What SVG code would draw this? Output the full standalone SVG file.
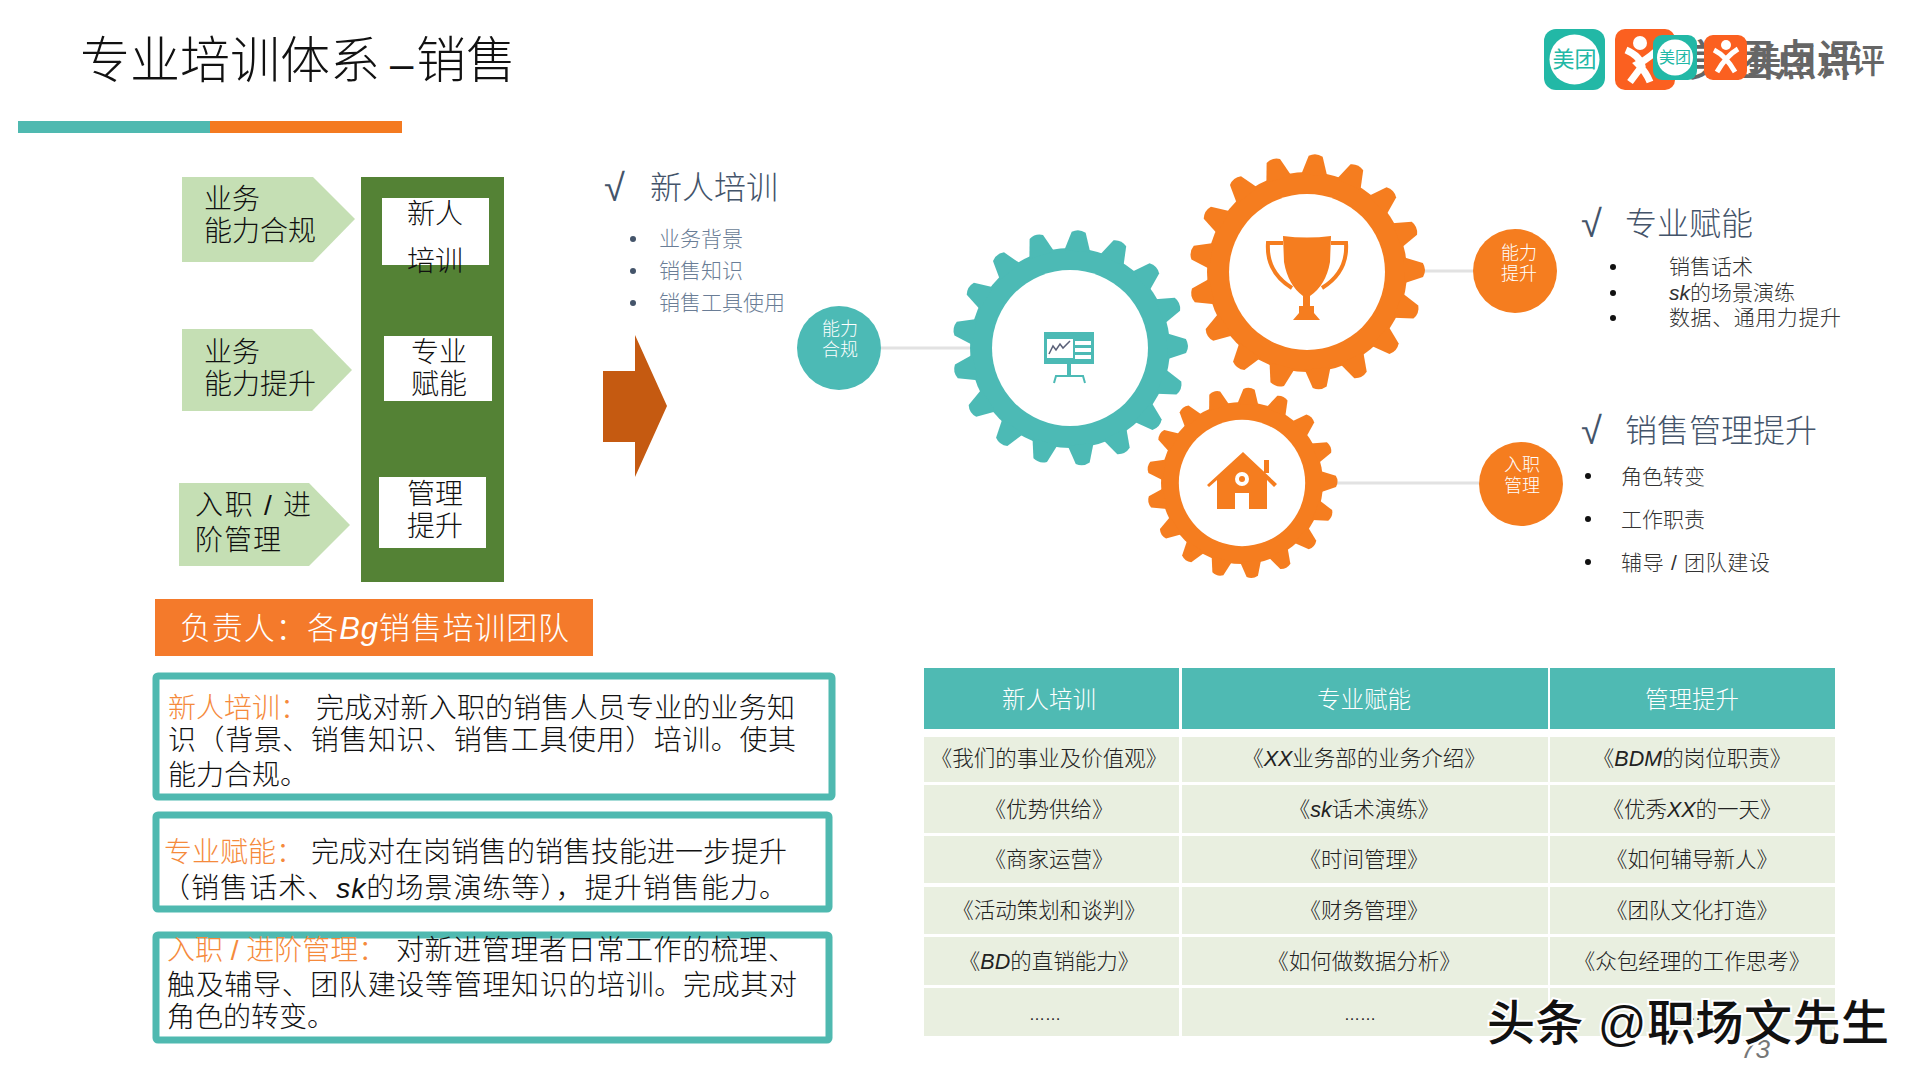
<svg xmlns="http://www.w3.org/2000/svg" xmlns:xlink="http://www.w3.org/1999/xlink" width="1920" height="1080" viewBox="0 0 1920 1080">
<style>
text{font-family:"Liberation Sans","Noto Sans CJK SC",sans-serif;font-weight:300;fill:#111}
.c{text-anchor:middle}
.tb{font-size:21.500px;fill:#222;text-anchor:middle}
.th{font-size:23.500px;fill:#fff;text-anchor:middle}
.lab{font-size:28px}
.d{font-size:28px}
.o{fill:#f58a3c}
.cw{font-size:18px;fill:#fff;text-anchor:middle}
.h{font-size:32px;fill:#44546a}
.chk{font-size:38px;fill:#44546a;font-style:italic;font-weight:400}
.l1{font-size:21px;fill:#6a7d96}
.l2{font-size:21px;fill:#333}
.it{font-style:italic;font-weight:400}
.row{fill:#e9efe0}
.hd{fill:#4fbab3}
.bx{fill:#fff;stroke:#4fb9b0;stroke-width:7}
.wb{fill:#fff}
.lg{fill:#c5dfb4}
.conn{stroke:#e2e2e2;stroke-width:3;fill:none}
</style>
<defs>
<path id="tooth" d="M-13,-97 L-7,-116 Q0,-120 7,-116 L13,-97 Z"/>
<g id="gear">
<circle r="100"/>
<g transform="rotate(89)">
<use href="#tooth"/><use href="#tooth" transform="rotate(21.18)"/><use href="#tooth" transform="rotate(42.35)"/><use href="#tooth" transform="rotate(63.53)"/><use href="#tooth" transform="rotate(84.71)"/><use href="#tooth" transform="rotate(105.88)"/><use href="#tooth" transform="rotate(127.06)"/><use href="#tooth" transform="rotate(148.24)"/><use href="#tooth" transform="rotate(169.41)"/><use href="#tooth" transform="rotate(190.59)"/><use href="#tooth" transform="rotate(211.76)"/><use href="#tooth" transform="rotate(232.94)"/><use href="#tooth" transform="rotate(254.12)"/><use href="#tooth" transform="rotate(275.29)"/><use href="#tooth" transform="rotate(296.47)"/><use href="#tooth" transform="rotate(317.65)"/><use href="#tooth" transform="rotate(338.82)"/>
</g>
<circle r="78" fill="#fff"/>
</g>
</defs>
<rect width="1920" height="1080" fill="#fff"/>

<g id="title">
<text x="80" y="78" font-size="50" fill="#222">专业培训体系</text>
<text x="390" y="78" font-size="42" fill="#222">–</text>
<text x="416" y="78" font-size="50" fill="#222">销售</text>
<rect x="18" y="121" width="192" height="12" fill="#4fb9b0"/>
<rect x="210" y="121" width="192" height="12" fill="#f47a20"/>
</g>

<g id="logo">
<text x="1688" y="76" font-size="43" style="font-weight:500;fill:#666">美团点评</text>
<text x="1747" y="73" font-size="34.500" style="font-weight:500;fill:#666">美团点评</text>
<rect x="1544" y="29" width="61" height="61" rx="12" fill="#22b8a6"/>
<circle cx="1574.500" cy="59.500" r="25" fill="#fff"/>
<text class="c" x="1574.500" y="67" font-size="22" style="fill:#22b8a6;font-weight:400">美团</text>
<rect x="1615" y="29" width="60" height="61" rx="10" fill="#fb6020"/>
<circle cx="1640" cy="43" r="7" fill="#fff"/>
<path d="M1626,50 Q1640,56 1642,66 L1630,82 M1666,42 Q1650,58 1638,64 Q1646,72 1650,82" fill="none" stroke="#fff" stroke-width="7"/>
<rect x="1653" y="35" width="44" height="45" rx="9" fill="#22b8a6"/>
<circle cx="1675" cy="57.500" r="18" fill="#fff"/>
<text class="c" x="1675" y="63" font-size="16" style="fill:#22b8a6;font-weight:400">美团</text>
<rect x="1704" y="35" width="43" height="45" rx="9" fill="#fb6020"/>
<circle cx="1726" cy="45" r="5" fill="#fff"/>
<path d="M1714,50 Q1726,56 1735,72 M1738,49 Q1726,56 1717,72" fill="none" stroke="#fff" stroke-width="5"/>
</g>

<g id="left-arrows">
<g id="arrow-1"><path class="lg" d="M182,177 H313 L355,219 L313,262 H182 Z"/>
<text class="lab" x="204" y="209">业务</text><text class="lab" x="204" y="241">能力合规</text></g>
<g id="arrow-2"><path class="lg" d="M182,329 H312 L352,370 L312,411 H182 Z"/>
<text class="lab" x="204" y="362">业务</text><text class="lab" x="204" y="394">能力提升</text></g>
<g id="arrow-3"><path class="lg" d="M179,483 H309 L350,525 L309,566 H179 Z"/>
<text class="lab" x="195" y="515" textLength="116">入职 / 进</text><text class="lab" x="195" y="550" textLength="86">阶管理</text></g>
</g>

<g id="green-panel">
<rect x="361" y="177" width="143" height="405" fill="#548235"/>
<rect class="wb" x="382" y="198" width="107" height="67"/>
<rect class="wb" x="384" y="336" width="108" height="65"/>
<rect class="wb" x="379" y="477" width="107" height="71"/>
<text class="lab c" x="435" y="224">新人</text><text class="lab c" x="435" y="271">培训</text>
<text class="lab c" x="439" y="362">专业</text><text class="lab c" x="439" y="394">赋能</text>
<text class="lab c" x="435" y="504">管理</text><text class="lab c" x="435" y="536">提升</text>
</g>

<g id="big-arrow"><path d="M603,371 H635 V335 L667,406 L635,477 V442 H603 Z" fill="#c55a11"/></g>

<g id="list-new">
<text class="chk" x="604" y="201">√</text>
<text class="h" x="650" y="199">新人培训</text>
<circle cx="633" cy="239" r="3" fill="#44546a"/><text class="l1" x="659" y="246">业务背景</text>
<circle cx="633" cy="271" r="3" fill="#44546a"/><text class="l1" x="659" y="278">销售知识</text>
<circle cx="633" cy="303" r="3" fill="#44546a"/><text class="l1" x="659" y="310">销售工具使用</text>
</g>

<g id="connectors">
<path class="conn" d="M881,348 H970"/>
<path class="conn" d="M1424,271 H1473"/>
<path class="conn" d="M1337,483 H1479"/>
</g>

<g id="gear-teal" fill="#4cbab5">
<use href="#gear" transform="translate(1070,348)"/>
<rect x="1044" y="332" width="50" height="32"/>
<rect x="1047" y="339" width="26" height="19" fill="#fff"/>
<rect x="1075" y="341" width="16" height="4" fill="#fff"/><rect x="1075" y="348" width="16" height="4" fill="#fff"/><rect x="1075" y="355" width="16" height="4" fill="#fff"/>
<polyline points="1049,354 1053,346 1056,350 1060,344 1063,348 1070,341" fill="none" stroke="#5a6078" stroke-width="1.500"/>
<rect x="1067" y="364" width="4" height="11"/>
<path d="M1054,383 L1056,376 H1083 L1085,383" fill="none" stroke="#4cbab5" stroke-width="2"/>
</g>

<g id="gear-trophy" fill="#f57d1f">
<use href="#gear" transform="translate(1307,272)"/>
<path d="M1283,236 Q1307,239 1331,236 L1330,262 Q1326,285 1310,296 V306 H1314 V313 L1320,320 H1293 L1299,313 V306 H1303 V296 Q1288,285 1284,262 Z"/>
<path d="M1283,243 H1268 Q1266,272 1292,288 M1331,243 H1346 Q1348,272 1322,288" fill="none" stroke="#f57d1f" stroke-width="4"/>
</g>

<g id="gear-house" fill="#f57d1f">
<use href="#gear" transform="translate(1242,483) scale(0.81)"/>
<rect x="1264" y="460" width="5" height="13"/>
<path d="M1243,452 L1277,484 L1274,487 L1267,480 V509 H1217 V480 L1209,487 L1207,485 Z"/>
<circle cx="1242" cy="479" r="7" fill="#fff"/><circle cx="1242" cy="479" r="3"/>
<rect x="1235" y="493" width="14" height="16" fill="#fff"/>
</g>

<g id="node-comply"><circle cx="839" cy="348" r="42" fill="#4cbab5"/>
<text class="cw" x="840" y="335">能力</text><text class="cw" x="840" y="356">合规</text></g>
<g id="node-raise"><circle cx="1515" cy="271" r="42" fill="#f57d1f"/>
<text class="cw" x="1519" y="259">能力</text><text class="cw" x="1519" y="280">提升</text></g>
<g id="node-manage"><circle cx="1521" cy="484" r="42" fill="#f57d1f"/>
<text class="cw" x="1522" y="471">入职</text><text class="cw" x="1522" y="492">管理</text></g>

<g id="list-skill">
<text class="chk" x="1581" y="237">√</text>
<text class="h" x="1625" y="235">专业赋能</text>
<circle cx="1613" cy="267" r="3" fill="#111"/><text class="l2" x="1669" y="274">销售话术</text>
<circle cx="1613" cy="293" r="3" fill="#111"/><text class="l2" x="1669" y="300"><tspan class="it">sk</tspan>的场景演练</text>
<circle cx="1613" cy="318" r="3" fill="#111"/><text class="l2" x="1669" y="325" textLength="172">数据、通用力提升</text>
</g>
<g id="list-manage">
<text class="chk" x="1581" y="444">√</text>
<text class="h" x="1625" y="442">销售管理提升</text>
<circle cx="1588" cy="476" r="3" fill="#111"/><text class="l2" x="1621" y="484">角色转变</text>
<circle cx="1588" cy="519" r="3" fill="#111"/><text class="l2" x="1621" y="527">工作职责</text>
<circle cx="1588" cy="562" r="3" fill="#111"/><text class="l2" x="1621" y="570" textLength="149">辅导 / 团队建设</text>
</g>

<g id="owner"><rect x="155" y="599" width="438" height="57" fill="#f47a2b"/>
<text x="180" y="639" font-size="31" style="fill:#fff" textLength="389">负责人：各<tspan class="it" style="fill:#fff">Bg</tspan>销售培训团队</text></g>

<g id="box-new"><rect class="bx" x="156" y="676" width="676" height="121" rx="2"/>
<text class="d" x="168" y="718"><tspan class="o">新人培训：</tspan></text><text class="d" x="316" y="718" textLength="479">完成对新入职的销售人员专业的业务知</text>
<text class="d" x="168" y="750" textLength="628">识（背景、销售知识、销售工具使用）培训。使其</text>
<text class="d" x="168" y="785">能力合规。</text></g>
<g id="box-skill"><rect class="bx" x="156" y="815" width="673" height="94" rx="2"/>
<text class="d" x="164" y="862"><tspan class="o">专业赋能：</tspan></text><text class="d" x="311" y="862">完成对在岗销售的销售技能进一步提升</text>
<text class="d" x="162" y="898" textLength="625">（销售话术、<tspan class="it">sk</tspan>的场景演练等），提升销售能力。</text></g>
<g id="box-manage"><rect class="bx" x="156" y="935" width="673" height="105" rx="2"/>
<text class="d" x="167" y="960"><tspan class="o">入职 / 进阶管理：</tspan></text><text class="d" x="396" y="960" textLength="400">对新进管理者日常工作的梳理、</text>
<text class="d" x="167" y="995" textLength="630">触及辅导、团队建设等管理知识的培训。完成其对</text>
<text class="d" x="167" y="1027">角色的转变。</text></g>

<g id="table">
<rect class="hd" x="924" y="668" width="255" height="61"/><rect class="hd" x="1182" y="668" width="366" height="61"/><rect class="hd" x="1550" y="668" width="285" height="61"/>
<rect class="row" x="924" y="737" width="255" height="45"/><rect class="row" x="1182" y="737" width="366" height="45"/><rect class="row" x="1550" y="737" width="285" height="45"/>
<rect class="row" x="924" y="785" width="255" height="48"/><rect class="row" x="1182" y="785" width="366" height="48"/><rect class="row" x="1550" y="785" width="285" height="48"/>
<rect class="row" x="924" y="836" width="255" height="47"/><rect class="row" x="1182" y="836" width="366" height="47"/><rect class="row" x="1550" y="836" width="285" height="47"/>
<rect class="row" x="924" y="887" width="255" height="47"/><rect class="row" x="1182" y="887" width="366" height="47"/><rect class="row" x="1550" y="887" width="285" height="47"/>
<rect class="row" x="924" y="937" width="255" height="48"/><rect class="row" x="1182" y="937" width="366" height="48"/><rect class="row" x="1550" y="937" width="285" height="48"/>
<rect class="row" x="924" y="988" width="255" height="48"/><rect class="row" x="1182" y="988" width="366" height="48"/><rect class="row" x="1550" y="988" width="285" height="48"/>
<text class="th" x="1049" y="708">新人培训</text><text class="th" x="1364" y="708">专业赋能</text><text class="th" x="1692" y="708">管理提升</text>
<text class="tb" x="1049" y="766">《我们的事业及价值观》</text><text class="tb" x="1364" y="766">《<tspan class="it">XX</tspan>业务部的业务介绍》</text><text class="tb" x="1692" y="766">《<tspan class="it">BDM</tspan>的岗位职责》</text>
<text class="tb" x="1049" y="817">《优势供给》</text><text class="tb" x="1364" y="817">《<tspan class="it">sk</tspan>话术演练》</text><text class="tb" x="1692" y="817">《优秀<tspan class="it">XX</tspan>的一天》</text>
<text class="tb" x="1049" y="867">《商家运营》</text><text class="tb" x="1364" y="867">《时间管理》</text><text class="tb" x="1692" y="867">《如何辅导新人》</text>
<text class="tb" x="1049" y="918">《活动策划和谈判》</text><text class="tb" x="1364" y="918">《财务管理》</text><text class="tb" x="1692" y="918">《团队文化打造》</text>
<text class="tb" x="1049" y="969">《<tspan class="it">BD</tspan>的直销能力》</text><text class="tb" x="1364" y="969">《如何做数据分析》</text><text class="tb" x="1692" y="969">《众包经理的工作思考》</text>
<text class="tb" x="1045" y="1020" style="font-size:16px">……</text><text class="tb" x="1360" y="1020" style="font-size:16px">……</text><text class="tb" x="1690" y="1020" style="font-size:16px">……</text>
</g>

<g id="footer">
<text x="1741" y="1058" font-size="26" style="fill:#777;font-style:italic">73</text>
<text x="1487" y="1040" font-size="48" textLength="402" style="fill:#111;font-weight:500;stroke:#fff;stroke-width:4px;paint-order:stroke">头条 @职场文先生</text>
</g>
</svg>
